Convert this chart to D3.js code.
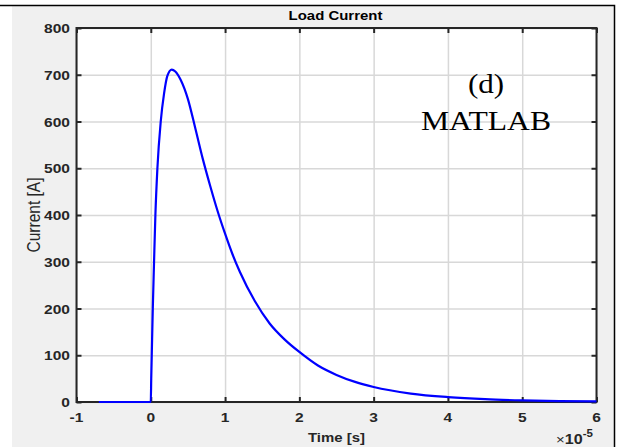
<!DOCTYPE html>
<html>
<head>
<meta charset="utf-8">
<script src="https://cdn.jsdelivr.net/npm/d3@7"></script>
<style>
  body { margin: 0; background: #fff; }
  svg { display: block; }
</style>
</head>
<body>
<script>
// data (time in units of 1e-5 s, current in A)
const timeE5 = [-0.7, 0, 0.006, 0.013, 0.027, 0.044, 0.062, 0.089, 0.134, 0.179, 0.224, 0.282, 0.33,
  0.4, 0.5, 0.6, 0.7, 0.8, 0.9, 1.0, 1.1, 1.2, 1.4, 1.6, 1.8, 2.0, 2.25, 2.5, 2.75, 3.0, 3.5, 4.0, 4.5, 5.0, 5.5, 6.0];
const currentA = [0, 0, 50, 100, 200, 300, 400, 500, 600, 660, 698, 711, 707,
  690, 648, 585, 520, 462, 408, 360, 316, 278, 216, 168, 134, 107, 78, 58, 43, 32, 18, 10.5, 6, 3.5, 2, 1.2];
const xTicks = [-1, 0, 1, 2, 3, 4, 5, 6];
const yTicks = [0, 100, 200, 300, 400, 500, 600, 700, 800];
const titleText = 'Load Current';
const xLabel = 'Time [s]';
const yLabel = 'Current [A]';

let width = 621;
let height = 447;
let sx = 1.15;   // the reference is stretched a bit horizontally
let ink = '#262626';
let sans = '"Liberation Sans", Arial, Helvetica, sans-serif';

let svg = d3.select('body').append('svg')
  .attr('width', width)
  .attr('height', height);

// figure background + border
svg.append('rect')
  .attr('x', 12).attr('y', 6)
  .attr('width', 602).attr('height', height - 6)
  .attr('fill', '#f0f0f0');
svg.append('path')
  .attr('d', 'M0,5.5H614.5V447')
  .attr('fill', 'none')
  .attr('stroke', '#000')
  .attr('stroke-width', 1.5);

let pLeft = 76.5, pRight = 596.5, pTop = 28, pBottom = 402;
let x = d3.scaleLinear().domain([-1, 6]).range([pLeft, pRight]);
let y = d3.scaleLinear().domain([0, 800]).range([pBottom, pTop]);

// plot area
svg.append('rect')
  .attr('x', pLeft).attr('y', pTop)
  .attr('width', pRight - pLeft).attr('height', pBottom - pTop)
  .attr('fill', '#fff');

// grid
svg.append('g')
  .attr('transform', `translate(0,${pBottom})`)
  .call(d3.axisBottom(x).tickValues(xTicks).tickSize(-(pBottom - pTop)).tickFormat(''))
  .call(g => g.select('.domain').remove())
  .selectAll('line')
  .attr('stroke', '#d8d8d8')
  .attr('stroke-width', 1.5);
svg.append('g')
  .attr('transform', `translate(${pLeft},0)`)
  .call(d3.axisLeft(y).tickValues(yTicks).tickSize(-(pRight - pLeft)).tickFormat(''))
  .call(g => g.select('.domain').remove())
  .selectAll('line')
  .attr('stroke', '#d8d8d8')
  .attr('stroke-width', 1.5);

// inward ticks on all four sides
let tickAxis = (axis, tx, ty) => {
  svg.append('g')
    .attr('transform', `translate(${tx},${ty})`)
    .call(axis.tickSizeInner(-5).tickSizeOuter(0).tickFormat(''))
    .call(g => g.select('.domain').remove())
    .selectAll('line')
    .attr('stroke', ink)
    .attr('stroke-width', 2);
};
tickAxis(d3.axisBottom(x).tickValues(xTicks), 0, pBottom);
tickAxis(d3.axisTop(x).tickValues(xTicks), 0, pTop);
tickAxis(d3.axisLeft(y).tickValues(yTicks), pLeft, 0);
tickAxis(d3.axisRight(y).tickValues(yTicks), pRight, 0);

// axes box
svg.append('rect')
  .attr('x', pLeft).attr('y', pTop)
  .attr('width', pRight - pLeft).attr('height', pBottom - pTop)
  .attr('fill', 'none')
  .attr('stroke', ink)
  .attr('stroke-width', 2);

// the current curve
let points = timeE5.map((t, i) => [t, currentA[i]]);
let line = d3.line()
  .x(d => x(d[0]))
  .y(d => y(d[1]))
  .curve(d3.curveMonotoneX);
svg.append('path')
  .datum(points)
  .attr('d', line)
  .attr('fill', 'none')
  .attr('stroke', '#0000ff')
  .attr('stroke-width', 2.2);

// text helper (stretched like the reference)
let txt = (px, py, str, o) => {
  return svg.append('text')
    .attr('transform', `translate(${px},${py}) scale(${sx},1)` + (o.rotate ? ` rotate(${o.rotate})` : ''))
    .attr('text-anchor', o.anchor || 'middle')
    .style('font-family', o.font || sans)
    .style('font-size', o.size + 'px')
    .style('font-weight', o.weight || 'normal')
    .attr('fill', o.color || ink)
    .text(str);
};

// tick labels
xTicks.forEach(d => txt(x(d), 422, d, {size: 13.5, weight: 'bold'}));
yTicks.forEach(d => txt(70, y(d) + 5, d, {size: 13.5, weight: 'bold', anchor: 'end'}));

// titles
txt((pLeft + pRight) / 2 - 1, 20, titleText, {size: 13, weight: 'bold', color: '#000'});
txt((pLeft + pRight) / 2, 442, xLabel, {size: 13, weight: 'bold'});
txt(40, 215, yLabel, {size: 15.5, rotate: -90});

// exponent
let ex = txt(556, 444, '', {size: 14, weight: 'bold', anchor: 'start'});
ex.append('tspan').style('font-weight', 'normal').style('font-size', '13px').text('\u00d7');
ex.append('tspan').text('10');
ex.append('tspan').attr('dy', -7).style('font-size', '10px').text('-5');

// annotation
let serif = '"Liberation Serif", "Times New Roman", serif';
txt(486, 93, '(d)', {size: 27, font: serif, color: '#000'});
txt(486, 130, 'MATLAB', {size: 27.5, font: serif, color: '#000'});
</script>
</body>
</html>
